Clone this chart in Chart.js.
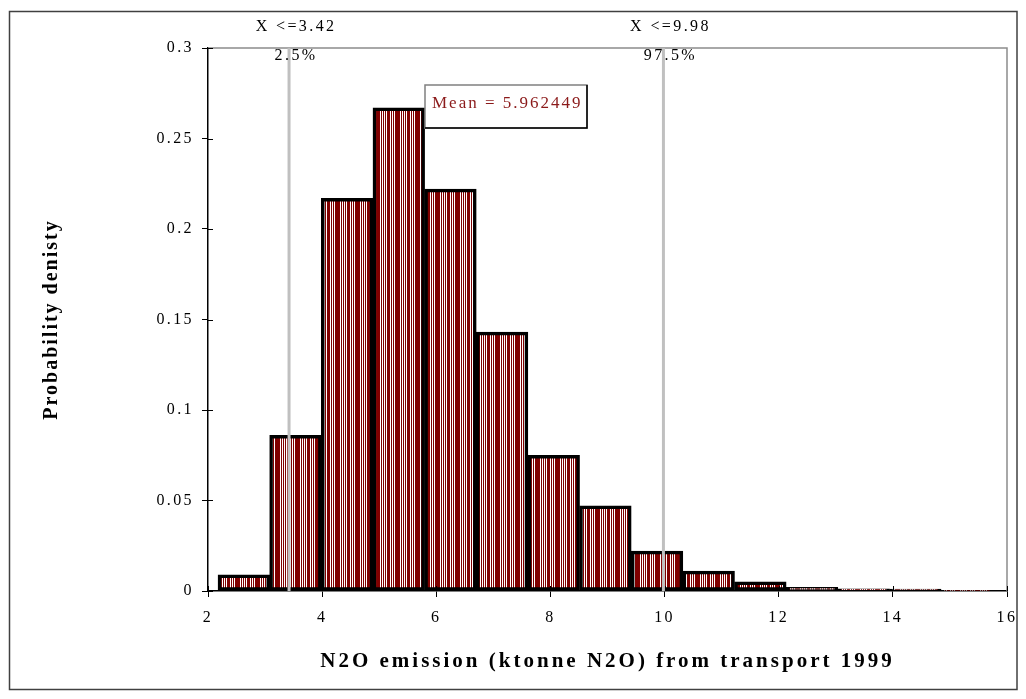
<!DOCTYPE html>
<html>
<head>
<meta charset="utf-8">
<title>N2O emission from transport 1999 – probability density</title>
<script src="https://cdn.jsdelivr.net/npm/chart.js@4.4.1/dist/chart.umd.min.js"></script>
<style>
  html, body { margin: 0; padding: 0; background: #ffffff; }
  #wrap { width: 1026px; height: 699px; position: relative; }
</style>
</head>
<body>
<div id="wrap"><canvas id="chart" width="1026" height="699"></canvas></div>
<script>
// Histogram bins (centre of each bin, ktonne N2O) and their probability density
const binCenters = [2.628, 3.533, 4.438, 5.343, 6.248, 7.153, 8.058, 8.963, 9.868, 10.773, 11.678, 12.583, 13.488, 14.393, 15.298];
const density    = [0.009, 0.086, 0.217, 0.267, 0.222, 0.143, 0.075, 0.047, 0.022, 0.011, 0.005, 0.002, 0.0012, 0.0011, 0.0004];

// Axis ticks
const xTicks = [2, 4, 6, 8, 10, 12, 14, 16];
const yTicks = [0, 0.05, 0.1, 0.15, 0.2, 0.25, 0.3];

// Percentile markers and the mean of the simulated distribution
const percentileValues = [3.42, 9.98];
const percentileLabels = ['2.5%', '97.5%'];
const meanValue = 5.962449;

const xTitle = 'N2O emission (ktonne N2O) from transport 1999';
const yTitle = 'Probability denisty';

const SERIF = "'Liberation Serif', 'Times New Roman', serif";

// Dark red fill with fine white vertical stripes
function stripePattern(ctx) {
  const cols = 'WRWRWRWRRRWRWRWRRRRR';
  const tile = document.createElement('canvas');
  tile.width = cols.length;
  tile.height = 4;
  const g = tile.getContext('2d');
  for (let i = 0; i < cols.length; i++) {
    g.fillStyle = cols[i] === 'W' ? '#ffffff' : '#800000';
    g.fillRect(i, 0, 1, 4);
  }
  return ctx.createPattern(tile, 'repeat');
}

const canvas = document.getElementById('chart');
const ctx2d = canvas.getContext('2d');

const titleSpacing = { x: '3px', y: '2px' };

const decorations = {
  id: 'decorations',
  beforeDraw(chart) {
    const ctx = chart.ctx;
    ctx.letterSpacing = '2.4px';
    // wider spacing for the axis titles
    Object.keys(titleSpacing).forEach(key => {
      const scale = chart.scales[key];
      if (scale && !scale._spacedTitle) {
        const orig = scale.drawTitle;
        scale.drawTitle = function () {
          this.ctx.save();
          this.ctx.letterSpacing = titleSpacing[key];
          orig.call(this);
          this.ctx.restore();
        };
        scale._spacedTitle = true;
      }
    });
    // outer chart frame
    ctx.save();
    ctx.strokeStyle = '#404040';
    ctx.lineWidth = 1.5;
    ctx.strokeRect(9.5, 11.5, 1007.5, 678);
    ctx.restore();
  },
  afterDatasetsDraw(chart) {
    const ctx = chart.ctx;
    const area = chart.chartArea;
    const xs = chart.scales.x;
    const ys = chart.scales.y;

    ctx.save();
    // plot area top and right edges
    ctx.strokeStyle = '#8c8c8c';
    ctx.lineWidth = 1.5;
    ctx.beginPath();
    ctx.moveTo(area.left, area.top);
    ctx.lineTo(area.right, area.top);
    ctx.lineTo(area.right, area.bottom);
    ctx.stroke();

    // tick marks crossing into the plot area
    ctx.strokeStyle = '#000000';
    ctx.lineWidth = 1;
    ctx.beginPath();
    yTicks.forEach(v => {
      const py = Math.round(ys.getPixelForValue(v)) + 0.5;
      ctx.moveTo(area.left, py);
      ctx.lineTo(area.left + 5, py);
    });
    xTicks.forEach(v => {
      const px = Math.round(xs.getPixelForValue(v)) + 0.5;
      ctx.moveTo(px, area.bottom);
      ctx.lineTo(px, area.bottom - 5);
    });
    ctx.stroke();

    // percentile lines with their labels
    ctx.font = '16px ' + SERIF;
    ctx.fillStyle = '#000000';
    ctx.textAlign = 'center';
    ctx.textBaseline = 'middle';
    percentileValues.forEach((v, i) => {
      const px = xs.getPixelForValue(v);
      ctx.strokeStyle = '#c0c0c0';
      ctx.lineWidth = 3;
      ctx.beginPath();
      ctx.moveTo(px, area.top);
      ctx.lineTo(px, area.bottom);
      ctx.stroke();
      ctx.fillText('X <=' + v, px + 7, area.top - 21);
      ctx.fillText(percentileLabels[i], px + 7, area.top + 8);
    });

    // mean value box
    const bx = area.left + 217, by = area.top + 37, bw = 162, bh = 43;
    ctx.fillStyle = '#ffffff';
    ctx.fillRect(bx, by, bw, bh);
    ctx.strokeStyle = '#808080';
    ctx.lineWidth = 1.5;
    ctx.strokeRect(bx, by, bw, bh);
    ctx.strokeStyle = '#000000';
    ctx.beginPath();
    ctx.moveTo(bx + bw, by);
    ctx.lineTo(bx + bw, by + bh);
    ctx.lineTo(bx, by + bh);
    ctx.stroke();
    ctx.font = '17px ' + SERIF;
    ctx.letterSpacing = '2px';
    ctx.fillStyle = '#8b1a1a';
    ctx.textAlign = 'left';
    ctx.textBaseline = 'alphabetic';
    ctx.fillText('Mean = ' + meanValue, bx + 7, by + 23);
    ctx.restore();
  }
};

new Chart(ctx2d, {
  type: 'bar',
  data: {
    datasets: [{
      data: binCenters.map((x, i) => ({ x: x, y: density[i] })),
      backgroundColor: stripePattern(ctx2d),
      borderColor: '#000000',
      borderWidth: 3.5,
      borderSkipped: false,
      barPercentage: 1,
      categoryPercentage: 1
    }]
  },
  plugins: [decorations],
  options: {
    responsive: false,
    animation: false,
    events: [],
    layout: { padding: { left: 10, top: 48, right: 18, bottom: 10 } },
    plugins: {
      legend: { display: false },
      tooltip: { enabled: false }
    },
    scales: {
      x: {
        type: 'linear',
        min: 2,
        max: 16,
        offset: false,
        afterBuildTicks: s => { s.ticks = xTicks.map(v => ({ value: v })); },
        afterFit: s => { s.height = 98; },
        grid: { offset: false, drawOnChartArea: false, drawTicks: true, tickLength: 6, color: '#000000', lineWidth: 1 },
        border: { display: true, color: '#000000', width: 1.5 },
        ticks: {
          autoSkip: false,
          maxRotation: 0,
          padding: 11,
          color: '#000000',
          font: { family: SERIF, size: 16 },
          callback: v => String(v)
        },
        title: {
          display: true,
          text: xTitle,
          color: '#000000',
          font: { family: SERIF, size: 21, weight: 'bold' },
          padding: { top: 0, bottom: 15 }
        }
      },
      y: {
        min: 0,
        max: 0.3,
        afterBuildTicks: s => { s.ticks = yTicks.map(v => ({ value: v })); },
        afterFit: s => { s.width = 198; },
        grid: { drawOnChartArea: false, drawTicks: true, tickLength: 6, color: '#000000', lineWidth: 1 },
        border: { display: true, color: '#000000', width: 1.5 },
        ticks: {
          autoSkip: false,
          padding: 8,
          color: '#000000',
          font: { family: SERIF, size: 16 },
          callback: v => String(+v.toFixed(2))
        },
        title: {
          display: true,
          text: yTitle,
          color: '#000000',
          font: { family: SERIF, size: 20, weight: 'bold' },
          padding: { top: 30, bottom: 0 }
        }
      }
    }
  }
});
</script>
</body>
</html>
